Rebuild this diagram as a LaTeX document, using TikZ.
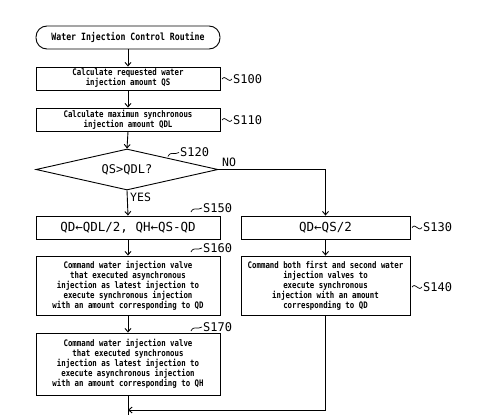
\documentclass[tikz,border=0pt]{standalone}
\usepackage{fontspec}
\usetikzlibrary{shapes.geometric,arrows.meta}
\newfontfamily\bxfont[FakeStretch=0.82]{DejaVu Sans Mono}
\newfontfamily\lbfont{DejaVu Sans Mono}
\tikzset{
  ln/.style={line width=0.9pt},
  arr/.style={ln,-{Straight Barb[length=3.5pt,width=6pt]}},
  box/.style={draw,ln,minimum width=184pt,align=center,inner sep=0pt,
    font=\bxfont\bfseries\fontsize{9}{10}\selectfont},
  bigbox/.style={draw,ln,minimum width=184pt,minimum height=23pt,align=center,inner sep=0pt,
    font=\lbfont\fontsize{12.5}{14}\selectfont},
  lab/.style={anchor=west,inner sep=0pt,font=\lbfont\fontsize{12}{14}\selectfont},
  yn/.style={anchor=west,inner sep=0pt,font=\lbfont\fontsize{11.5}{14}\selectfont},
  tl/.style={line width=0.7pt}
}
\begin{document}
\begin{tikzpicture}[x=1pt,y=-1pt]
\useasboundingbox[fill=white] (0,0) rectangle (482,415);
% nodes
\node[draw,ln,rounded corners=11pt,minimum width=184pt,minimum height=23pt,inner sep=0pt,
  font=\bxfont\bfseries\fontsize{10}{12}\selectfont] (start) at (128,37.5) {Water Injection Control Routine};
\node[box,minimum height=23pt] (s100) at (128,78.5) {Calculate requested water\\injection amount QS};
\node[box,minimum height=23pt] (s110) at (128,119.5) {Calculate maximun synchronous\\injection amount QDL};
\node[draw,ln,diamond,shape aspect=4.4,minimum width=182pt,minimum height=41pt,inner sep=0pt,
  font=\lbfont\fontsize{12}{14}\selectfont] (dia) at (127,169.5) {QS>QDL?};
\node[bigbox] (s150) at (128,227.5) {QD←QDL/2, QH←QS-QD};
\node[bigbox,minimum width=169pt] (s130) at (325.5,227.5) {QD←QS/2};
\node[box,minimum height=59pt] (s160) at (128,285.5) {Command water injection valve\\that executed asynchronous\\injection as latest injection to\\execute synchronous injection\\with an amount corresponding to QD};
\node[box,minimum width=169pt,minimum height=59pt] (s140) at (325.5,285.5) {Command both first and second water\\injection valves to\\execute synchronous\\injection with an amount\\corresponding to QD};
\node[box,minimum height=62pt] (s170) at (128,364) {Command water injection valve\\that executed synchronous\\injection as latest injection to\\execute asynchronous injection\\with an amount corresponding to QH};
\coordinate (m) at (128,410);
\coordinate (bot) at (128,417);
% yes / no
\node[yn] (yes) at (130,197) {YES};
\node[yn] (no) at (222,162.5) {NO};
% step labels
\node[lab] (l100) at (233,79) {S100};
\node[lab] (l110) at (233,120) {S110};
\node[lab] (l120) at (180,152.5) {S120};
\node[lab] (l150) at (203,208) {S150};
\node[lab] (l160) at (203,248) {S160};
\node[lab] (l170) at (203,327) {S170};
\node[lab] (l130) at (423,227.5) {S130};
\node[lab] (l140) at (423,287) {S140};
% tildes
\foreach \l in {l100,l110,l130,l140}{
  \draw[tl] (\l.west) ++(-11,0) .. controls +(4,-5) and +(-4,5) .. ([xshift=-1pt]\l.west);
}
\foreach \l in {l120,l150,l160,l170}{
  \draw[tl] (\l.west) ++(-12,4) .. controls +(3,-6) and +(-5,3) .. ([xshift=-1pt]\l.west);
}
% connectors
\draw[arr] (start.south) -- (s100.north);
\draw[arr] (s100.south) -- (s110.north);
\draw[arr] (s110.south) -- (dia.north);
\draw[arr] (dia.south) -- (s150.north);
\draw[arr] (dia.east) -| (s130.north);
\draw[arr] (s150.south) -- (s160.north);
\draw[arr] (s130.south) -- (s140.north);
\draw[arr] (s160.south) -- (s170.north);
\draw[ln] (s170.south) -- (bot);
\draw[arr] (s140.south) |- (m);
\end{tikzpicture}
\end{document}
